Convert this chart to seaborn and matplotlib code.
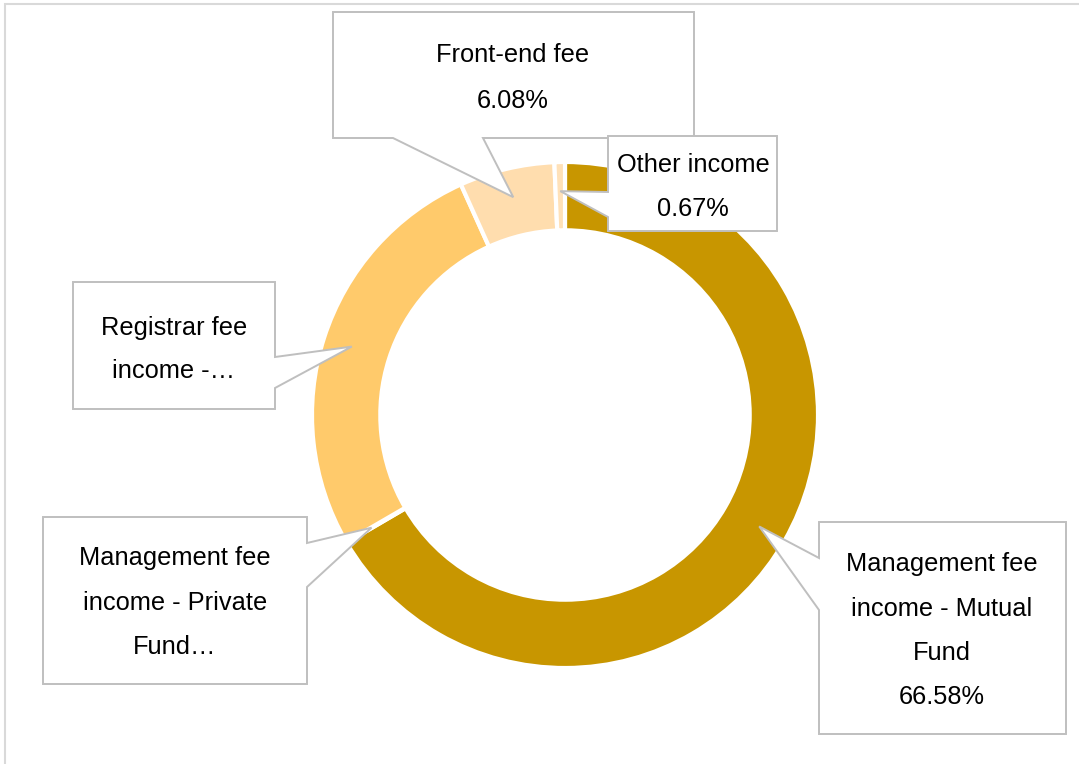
import matplotlib
matplotlib.use("Agg")
import matplotlib.pyplot as plt
from matplotlib.patches import Polygon, Rectangle
import numpy as np
import seaborn as sns

# Revenue breakdown (share of total income, %)
categories = [
    "Management fee income - Mutual Fund",
    "Management fee income - Private Fund",
    "Registrar fee income",
    "Front-end fee",
    "Other income",
]
shares = [66.58, 0.05, 26.62, 6.08, 0.67]
slice_colors = ["#C89600", "#C89600", "#FFCA6B", "#FFDDAE", "#FFE1B8"]

# Wrapped callout text; None marks where the percentage is shown
callout_text = [
    ["Management fee", "income - Mutual", "Fund", None],
    ["Management fee", "income - Private", "Fund…"],
    ["Registrar fee", "income -…"],
    ["Front-end fee", None],
    ["Other income", None],
]

W, H = 1079, 764
sns.set_theme(style="white")
plt.rcParams["font.family"] = ["Liberation Sans", "DejaVu Sans"]

fig = plt.figure(figsize=(W / 100, H / 100), dpi=100)
ax = fig.add_axes([0, 0, 1, 1])


def fy(y):
    # layout is specified top-down in pixels
    return H - y


center = (565, fy(415))
radius = 253
ring = 0.27

wedges, _ = ax.pie(
    shares,
    colors=sns.color_palette(slice_colors),
    startangle=90,
    counterclock=False,
    radius=radius,
    center=center,
    wedgeprops=dict(width=radius * ring, edgecolor="white", linewidth=3),
)

# Callout boxes: (x0, y0, x1, y1), side of the pointer, pointer base, text line y's
callouts = [
    ((819, 522, 1066, 734), "left", (558, 610), [563, 607, 652, 696], 942),
    ((43, 517, 307, 684), "right", (543, 587), [557, 601, 646], 175),
    ((73, 282, 275, 409), "right", (357, 388), [326, 369], 174),
    ((333, 12, 694, 138), "bottom", (393, 483), [54, 100], 513),
    ((608, 136, 777, 231), "left", (192, 217), [163, 207], 693),
]

edge_col = "#BFBFBF"
for w, val, lines, (box, side, base, ys, cx) in zip(wedges, shares, callout_text, callouts):
    mid = np.deg2rad((w.theta1 + w.theta2) / 2)
    r_tip = radius * 0.885
    tx = center[0] + r_tip * np.cos(mid)
    ty = center[1] + r_tip * np.sin(mid)
    x0, y0, x1, y1 = box
    b1, b2 = base
    if side == "left":
        pts = [(x0, fy(y0)), (x1, fy(y0)), (x1, fy(y1)), (x0, fy(y1)),
               (x0, fy(b2)), (tx, ty), (x0, fy(b1))]
    elif side == "right":
        pts = [(x0, fy(y0)), (x1, fy(y0)), (x1, fy(b1)), (tx, ty),
               (x1, fy(b2)), (x1, fy(y1)), (x0, fy(y1))]
    else:
        pts = [(x0, fy(y0)), (x1, fy(y0)), (x1, fy(y1)), (b2, fy(y1)),
               (tx, ty), (b1, fy(y1)), (x0, fy(y1))]
    ax.add_patch(Polygon(pts, closed=True, facecolor="white",
                         edgecolor=edge_col, linewidth=1.4, zorder=5))
    for line, y in zip(lines, ys):
        txt = f"{val:.2f}%" if line is None else line
        ax.text(cx, fy(y + 8.5), txt, ha="center", va="baseline",
                fontsize=18.3, color="black", zorder=6)

# chart-area frame
ax.add_patch(Rectangle((5, -50), W + 100, fy(4) + 50, facecolor="none",
                       edgecolor="#D9D9D9", linewidth=1.5, zorder=1))

ax.set_xlim(0, W)
ax.set_ylim(0, H)
ax.set_aspect("auto")
ax.axis("off")

fig.savefig("out.png", dpi=100, facecolor="white")
